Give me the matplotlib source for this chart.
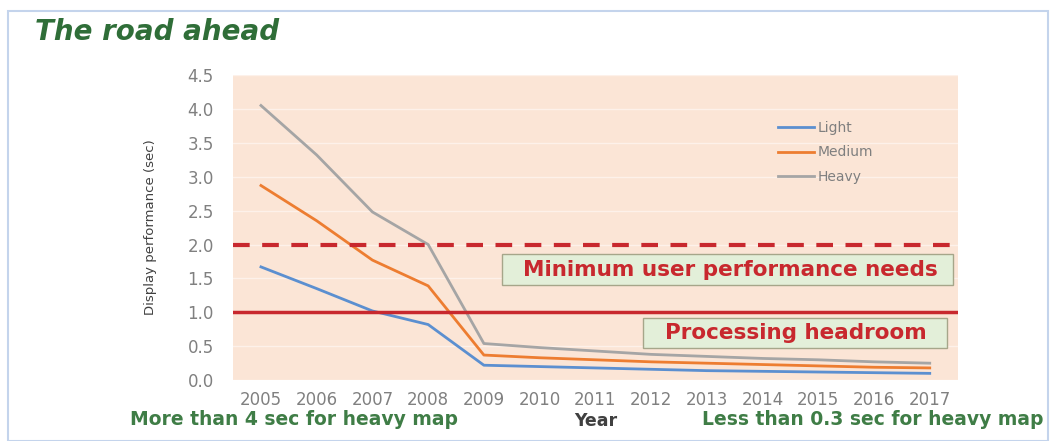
import matplotlib
matplotlib.use('Agg')
import matplotlib.pyplot as plt
from matplotlib.patches import Rectangle

years = ['2005', '2006', '2007', '2008', '2009', '2010', '2011', '2012',
         '2013', '2014', '2015', '2016', '2017']
light = [1.67, 1.35, 1.02, 0.82, 0.22, 0.20, 0.18, 0.16, 0.14, 0.13, 0.12, 0.11, 0.10]
medium = [2.87, 2.35, 1.77, 1.39, 0.37, 0.33, 0.30, 0.27, 0.25, 0.23, 0.21, 0.19, 0.18]
heavy = [4.05, 3.32, 2.48, 2.00, 0.54, 0.48, 0.43, 0.38, 0.35, 0.32, 0.30, 0.27, 0.25]
yticks = [0.0, 0.5, 1.0, 1.5, 2.0, 2.5, 3.0, 3.5, 4.0, 4.5]
need_level = 2.0
headroom_level = 1.0

green = '#2f6e38'
red = '#c8282e'

fig = plt.figure(figsize=(10.5, 4.41), dpi=100)
fig.patches.append(Rectangle((0.008, 0.0), 0.99, 0.975, transform=fig.transFigure,
                             fill=False, edgecolor='#c4d4ec', linewidth=1.5))

ax = fig.add_axes([0.222, 0.138, 0.690, 0.692])
ax.set_facecolor('#fbe5d6')
for s in ax.spines.values():
    s.set_visible(False)

x = list(range(len(years)))
ax.plot(x, light, color='#5b8fd0', lw=2, label='Light')
ax.plot(x, medium, color='#ed7d31', lw=2, label='Medium')
ax.plot(x, heavy, color='#a5a5a5', lw=2, label='Heavy')

ax.axhline(need_level, color=red, lw=3, dashes=(4, 3))
ax.axhline(headroom_level, color=red, lw=2.5)

ax.set_xlim(-0.5, len(years) - 0.5)
ax.set_ylim(0, 4.5)
ax.set_yticks(yticks)
ax.set_yticklabels(['%.1f' % v for v in yticks])
ax.set_xticks(x)
ax.set_xticklabels(years)
ax.tick_params(length=0, colors='#808080', labelsize=12)
ax.tick_params(axis='x', pad=8)
ax.tick_params(axis='y', pad=14)
ax.grid(axis='y', color='#fdf1ea', lw=1)
ax.set_axisbelow(True)

ax.set_ylabel('Display performance (sec)', fontsize=9.5, color='#404040', labelpad=22)

leg = ax.legend(loc='upper left', bbox_to_anchor=(0.735, 0.89), frameon=False,
                handlelength=2.6, handletextpad=0.25, labelspacing=0.75, fontsize=10)
for t in leg.get_texts():
    t.set_color('#7f7f7f')

# label boxes (x in axes fraction, y in data units)
tr = ax.get_yaxis_transform()
ax.add_patch(Rectangle((0.371, 1.41), 0.622, 0.445, transform=tr,
                       facecolor='#e3efd9', edgecolor='#a6a68a', lw=1, zorder=3))
ax.add_patch(Rectangle((0.566, 0.475), 0.420, 0.445, transform=tr,
                       facecolor='#e3efd9', edgecolor='#a6a68a', lw=1, zorder=3))
ax.text(0.687, 1.63, 'Minimum user performance needs', ha='center', va='center',
        fontsize=15.5, fontweight='bold', color=red, transform=tr, zorder=4)
ax.text(0.777, 0.70, 'Processing headroom', ha='center', va='center',
        fontsize=15.5, fontweight='bold', color=red, transform=tr, zorder=4)

fig.text(0.033, 0.928, 'The road ahead', fontsize=20, fontweight='bold', style='italic',
         color=green, va='center')
fig.text(0.124, 0.048, 'More than 4 sec for heavy map', fontsize=13.5, fontweight='bold',
         color='#3f7d46', va='center')
fig.text(0.567, 0.046, 'Year', fontsize=12.5, fontweight='bold', color='#404040',
         va='center', ha='center')
fig.text(0.994, 0.048, 'Less than 0.3 sec for heavy map', fontsize=13.5, fontweight='bold',
         color='#3f7d46', va='center', ha='right')

fig.savefig('out.png', dpi=100)
